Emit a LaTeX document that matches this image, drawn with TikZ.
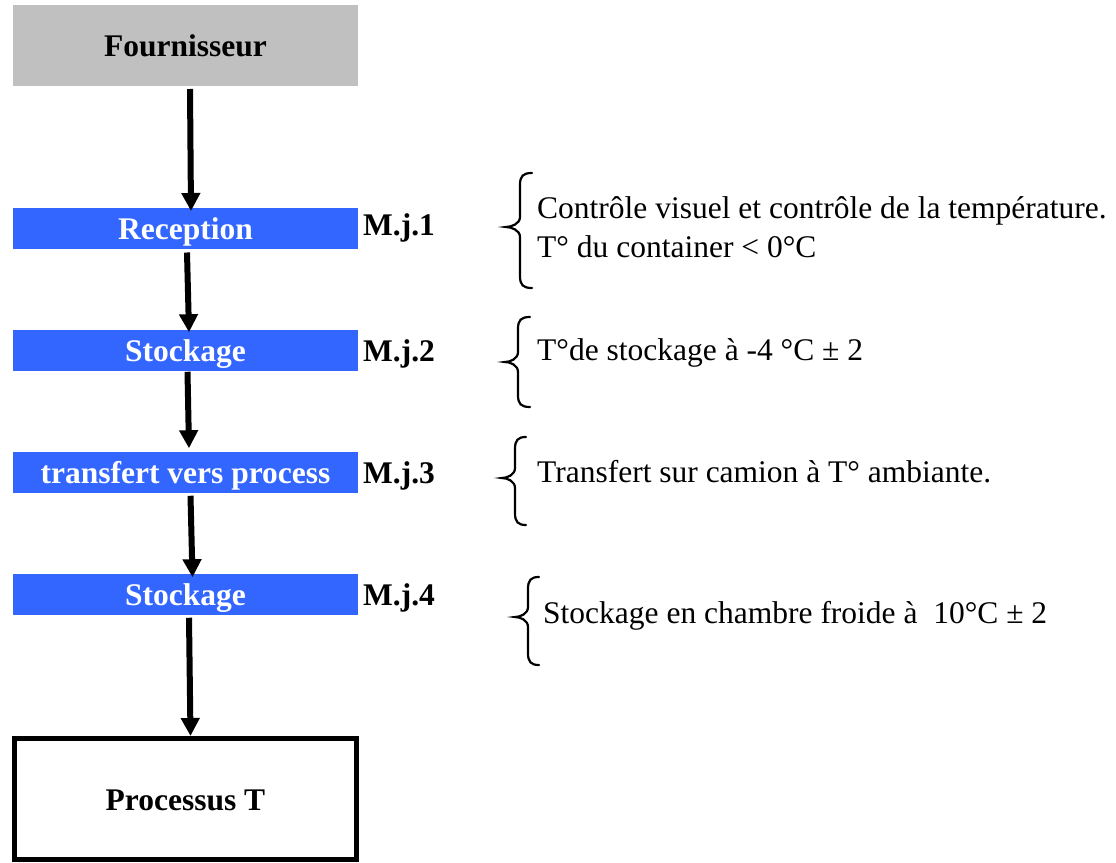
\documentclass[tikz,border=0pt]{standalone}
\usepackage{fontspec}
\setmainfont{Liberation Serif}
\usetikzlibrary{arrows.meta}
\definecolor{boxgray}{HTML}{C0C0C0}
\definecolor{boxblue}{HTML}{3366FF}
\newcommand\bigfont{\fontsize{31.5}{38}\selectfont}
% #1 x of ends, #2 x of stem, #3 x of tip, #4 y top, #5 y tip, #6 y bottom
\newcommand\mybrace[6]{%
  \draw[bracestyle] (#1,#4) .. controls (#2+3,#4) and (#2,#4+3) .. (#2,#4+12)
    -- (#2,#5-10) .. controls (#2,#5-3) and (#3+5,#5) .. (#3,#5)
    .. controls (#3+5,#5) and (#2,#5+3) .. (#2,#5+10)
    -- (#2,#6-12) .. controls (#2,#6-3) and (#2+3,#6) .. (#1,#6);}
\begin{document}
\begin{tikzpicture}[x=1pt,y=-1pt,
  basebox/.style={inner sep=0pt,outer sep=0pt,minimum width=345pt,
    text height=22pt,text depth=0pt,font=\bigfont\bfseries},
  graybox/.style={basebox,fill=boxgray,minimum height=81pt},
  bluebox/.style={basebox,fill=boxblue,text=white,minimum height=40.5pt},
  endbox/.style={basebox,draw=black,line width=5pt,minimum width=342pt,minimum height=121pt},
  mj/.style={anchor=base west,inner sep=0pt,font=\bigfont\bfseries},
  note/.style={anchor=base west,inner sep=0pt,font=\bigfont},
  arr/.style={line width=6pt,-{Triangle[width=18pt,length=18pt]}},
  bracestyle/.style={line width=2.2pt,line cap=round}]
\useasboundingbox (0,0) rectangle (1116,862);

\node[graybox] (F) at (185.5,45.5) {Fournisseur};
\node[bluebox] (R) at (185.5,228.25) {Reception};
\node[bluebox] (S1) at (185.5,350.5) {Stockage};
\node[bluebox] (T) at (185.5,472.5) {transfert vers process};
\node[bluebox] (S2) at (185.5,594.5) {Stockage};
\node[endbox] (P) at (185.5,799) {Processus T};

\node[mj] (m1) at (363,235) {M.j.1};
\node[mj] (m2) at (363,361) {M.j.2};
\node[mj] (m3) at (363,483) {M.j.3};
\node[mj] (m4) at (363,605) {M.j.4};

\draw[arr] ([xshift=4.5pt,yshift=-3pt]F.south) -- ([xshift=5.5pt,yshift=-3pt]R.north);
\draw[arr] ([xshift=1.5pt,yshift=-4pt]R.south) -- ([xshift=3.5pt,yshift=-2pt]S1.north);
\draw[arr] ([xshift=2pt,yshift=-1pt]S1.south) -- ([xshift=3.5pt,yshift=4pt]T.north);
\draw[arr] ([xshift=5pt,yshift=-3pt]T.south) -- ([xshift=7pt,yshift=-3pt]S2.north);
\draw[arr] ([xshift=3.5pt,yshift=-3pt]S2.south) -- ([xshift=5pt,yshift=2.5pt]P.north);

\mybrace{532}{520}{506}{173}{227}{288}
\mybrace{530}{518}{505}{317}{362}{407}
\mybrace{526}{515}{502}{437}{478}{525}
\mybrace{539}{528}{515}{577}{617}{665}

\node[note] (n1a) at (537,218) {Contrôle visuel et contrôle de la température.};
\node[note] (n1b) at (537,257) {T° du container < 0°C};
\node[note] (n2) at (537,360) {T°de stockage à -4 °C ± 2};
\node[note] (n3) at (537,482) {Transfert sur camion à T° ambiante.};
\node[note] (n4) at (543,623) {Stockage en chambre froide à\ \ 10°C ± 2};
\end{tikzpicture}
\end{document}
